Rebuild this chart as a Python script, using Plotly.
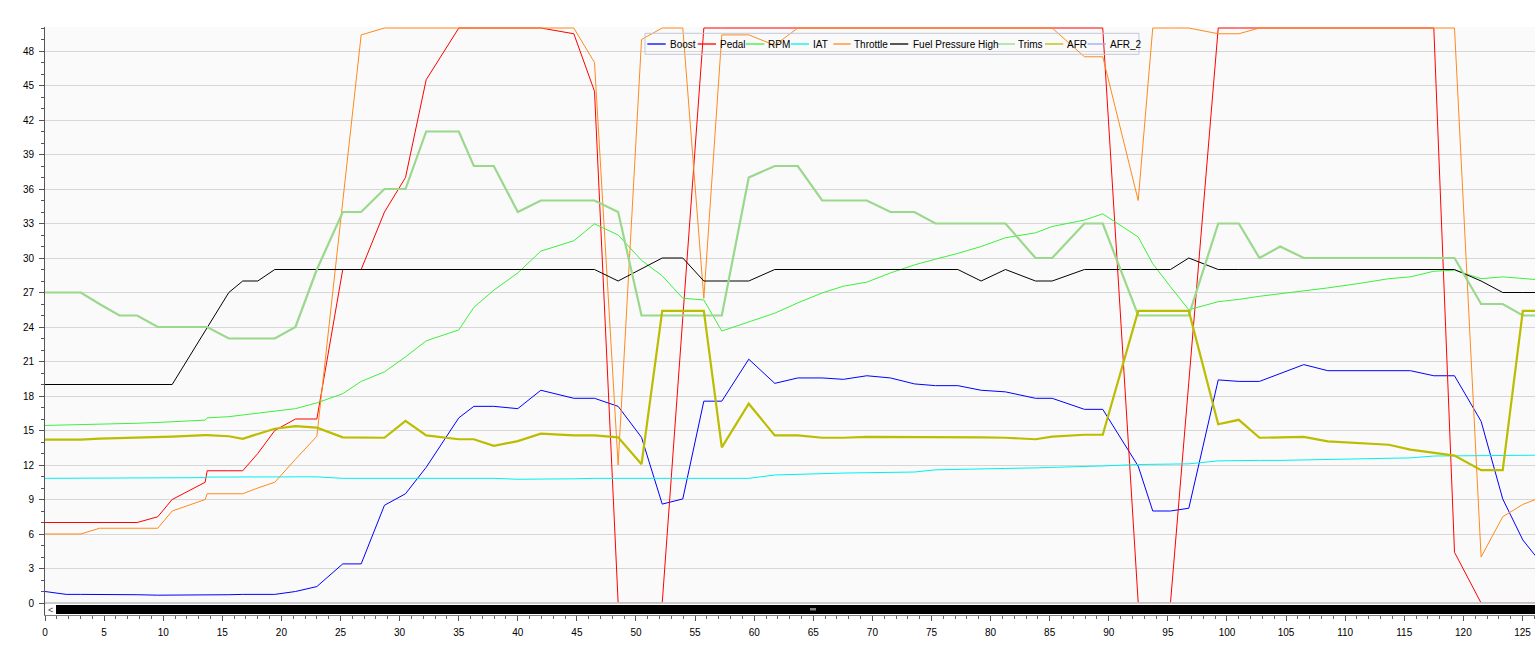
import plotly.graph_objects as go

# ---------------- data ----------------
time_s = [0, 1.79, 3.03, 4.61, 6.30, 7.80, 9.54, 10.76, 13.55, 13.72,
          15.55, 16.73, 18.00, 19.44, 21.19, 23.00, 25.19, 26.75, 28.72, 30.50,
          32.25, 35.01, 36.28, 37.97, 40.00, 41.95, 44.74, 46.49, 48.49, 50.47,
          52.22, 53.96, 55.74, 57.26, 59.54, 61.74, 63.69, 65.75, 67.55, 69.53,
          71.53, 73.56, 75.34, 77.23, 79.20, 81.26, 83.80, 85.21, 87.94, 89.49,
          92.49, 93.72, 95.22, 96.77, 99.26, 101.00, 102.75, 104.50, 106.50, 108.53,
          111.07, 113.69, 115.52, 117.50, 119.25, 121.50, 123.33, 125.03, 126.10]

boost = [1.0, 0.75, 0.75, 0.75, 0.75, 0.72, 0.68, 0.68, 0.68, 0.70,
         0.72, 0.75, 0.75, 0.75, 1.0, 1.43, 3.4, 3.4, 8.5, 9.5,
         11.8, 16.1, 17.1, 17.1, 16.9, 18.5, 17.8, 17.8, 17.1, 14.4,
         8.6, 9.05, 17.55, 17.55, 21.2, 19.1, 19.57, 19.57, 19.45, 19.76,
         19.57, 19.05, 18.9, 18.9, 18.5, 18.36, 17.8, 17.8, 16.84, 16.84,
         11.9, 8.0, 8.0, 8.24, 19.4, 19.27, 19.27, 19.95, 20.73, 20.2,
         20.2, 20.2, 20.2, 19.76, 19.76, 15.8, 9.05, 5.48, 4.1]

pedal = [7, 7, 7, 7, 7, 7, 7.5, 9.0, 10.5, 11.5,
         11.5, 11.5, 13.0, 15.0, 16.0, 16.0, 29.0, 29.0, 34.0, 37.0,
         45.5, 50, 50, 50, 50, 50, 49.5, 44.5, 0, 0,
         0, 24.8, 50, 50, 50, 50, 50, 50, 50, 50,
         50, 50, 50, 50, 50, 50, 50, 50, 50, 50,
         0, 0, 0, 19.2, 50, 50, 50, 50, 50, 50,
         50, 50, 50, 50, 4.41, 0, 0, 0, 0]

rpm = [15.44, 15.48, 15.5, 15.52, 15.57, 15.63, 15.7, 15.75, 15.9, 16.1,
       16.2, 16.35, 16.5, 16.7, 16.9, 17.4, 18.2, 19.27, 20.1, 21.4,
       22.8, 23.75, 25.7, 27.2, 28.7, 30.6, 31.5, 32.97, 32.0, 29.8,
       28.45, 26.5, 26.35, 23.65, 24.46, 25.2, 26.1, 26.96, 27.55, 27.9,
       28.7, 29.4, 29.9, 30.4, 31.0, 31.76, 32.19, 32.74, 33.3, 33.84,
       31.83, 29.5, 27.5, 25.5, 26.2, 26.4, 26.67, 26.9, 27.1, 27.4,
       27.77, 28.2, 28.36, 28.85, 28.94, 28.2, 28.36, 28.25, 28.13]

iat = [10.84, 10.84, 10.84, 10.84, 10.84, 10.84, 10.84, 10.84, 10.9, 10.95,
       10.97, 10.97, 10.97, 10.97, 10.97, 10.97, 10.84, 10.84, 10.84, 10.84,
       10.84, 10.84, 10.84, 10.84, 10.76, 10.76, 10.8, 10.84, 10.84, 10.84,
       10.84, 10.84, 10.84, 10.84, 10.84, 11.13, 11.2, 11.26, 11.3, 11.33,
       11.36, 11.39, 11.58, 11.6, 11.68, 11.7, 11.75, 11.78, 11.85, 11.92,
       12.04, 12.06, 12.08, 12.1, 12.36, 12.4, 12.4, 12.4, 12.43, 12.46,
       12.52, 12.57, 12.62, 12.78, 12.8, 12.85, 12.85, 12.85, 12.85]

throttle = [6, 6, 6, 6.5, 6.5, 6.5, 6.5, 8.0, 9.0, 9.5,
            9.5, 9.5, 10.0, 10.5, 12.5, 14.5, 34.9, 49.4, 50, 50,
            50, 50, 50, 50, 50, 50, 50, 47.0, 12.0, 49.0,
            50, 50, 26.5, 49.4, 49.4, 48.5, 50, 50, 50, 50,
            50, 50, 50, 50, 50, 50, 50, 50, 47.5, 47.5,
            35.0, 50, 50, 50, 49.5, 49.5, 50, 50, 50, 50,
            50, 50, 50, 50, 50, 4.0, 7.5, 8.57, 9.0]

fuel_pressure_high = [19, 19, 19, 19, 19, 19, 19, 19, 23.66, 23.95,
                      27, 28, 28, 29, 29, 29, 29, 29, 29, 29,
                      29, 29, 29, 29, 29, 29, 29, 29, 28, 29.06,
                      30, 30, 28, 28, 28, 29, 29, 29, 29, 29,
                      29, 29, 29, 29, 28, 29, 28, 28, 29, 29,
                      29, 29, 29, 30, 29, 29, 29, 29, 29, 29,
                      29, 29, 29, 29, 29, 28, 27, 27, 27]

trims = [27, 27, 27, 26, 25, 25, 24, 24, 24, 24,
         23, 23, 23, 23, 24, 29, 34, 34, 36, 36,
         41, 41, 38, 38, 34, 35, 35, 35, 34, 25,
         25, 25, 25, 25, 37, 38, 38, 35, 35, 35,
         34, 34, 33, 33, 33, 33, 30, 30, 33, 33,
         25, 25, 25, 25, 33, 33, 30, 31, 30, 30,
         30, 30, 30, 30, 30, 26, 26, 25, 25]

afr = [14.2, 14.2, 14.2, 14.3, 14.33, 14.4, 14.45, 14.47, 14.6, 14.6,
       14.5, 14.28, 14.7, 15.15, 15.38, 15.25, 14.4, 14.37, 14.37, 15.83,
       14.57, 14.24, 14.24, 13.66, 14.08, 14.73, 14.57, 14.57, 14.4, 12.07,
       25.4, 25.4, 25.4, 13.53, 17.33, 14.57, 14.57, 14.37, 14.37, 14.44,
       14.44, 14.44, 14.44, 14.44, 14.4, 14.37, 14.24, 14.47, 14.63, 14.63,
       25.4, 25.4, 25.4, 25.4, 15.54, 15.93, 14.37, 14.4, 14.44, 14.05,
       13.92, 13.76, 13.34, 13.08, 12.82, 11.55, 11.55, 25.4, 25.4]

afr_2 = []  # no visible samples in the reference

series_names = ["Boost", "Pedal", "RPM", "IAT", "Throttle",
                "Fuel Pressure High", "Trims", "AFR", "AFR_2"]
series_values = [boost, pedal, rpm, iat, throttle,
                 fuel_pressure_high, trims, afr, afr_2]

y_ticks = list(range(0, 49, 3))
x_ticks = list(range(0, 126, 5))

# ---------------- styling ----------------
colors = ["#0000ff", "#ff0000", "#3cf03c", "#00f0f0", "#ff8a1c",
          "#000000", "#9ad88c", "#bcbc00", "#99aaee"]
widths = [1, 1, 1, 1, 1, 1, 2.2, 2.2, 1]

W, H = 1535, 647
ML, MR, MT, MB = 45, 0, 27, 32
PW, PH = W - ML - MR, H - MT - MB
PX_PER_UNIT_Y = 11.5
ZERO_PY = 603
y_min = -(MT + PH - ZERO_PY) / PX_PER_UNIT_Y
y_max = (ZERO_PY - MT) / PX_PER_UNIT_Y
x_max = 126.06


def px_x(px):
    return (px - ML) / PW


def px_y(py):
    return (MT + PH - py) / PH


def val_py(py):
    return (ZERO_PY - py) / PX_PER_UNIT_Y


fig = go.Figure()
for name, vals, col, w in zip(series_names, series_values, colors, widths):
    fig.add_trace(go.Scatter(
        x=time_s[:len(vals)], y=vals, name=name, mode="lines",
        line=dict(color=col, width=w), showlegend=False, hoverinfo="skip"))

font = dict(family="Liberation Sans, Arial, sans-serif", size=10, color="#000000")

fig.update_layout(
    width=W, height=H,
    margin=dict(l=ML, r=MR, t=MT, b=MB, pad=0),
    paper_bgcolor="#ffffff",
    plot_bgcolor="#fafafa",
    font=font,
    showlegend=False,
    xaxis=dict(
        range=[0, x_max], showgrid=False, zeroline=False,
        showline=True, linecolor="#808080", linewidth=1,
        ticks="outside", ticklen=5, tickcolor="#555555", tickwidth=1,
        tickmode="array", tickvals=x_ticks, ticktext=[str(v) for v in x_ticks],
        ticklabelstandoff=3, tickfont=font,
        minor=dict(tickmode="array",
                   tickvals=[v for v in range(0, 127) if v % 5],
                   ticks="outside", ticklen=3, tickcolor="#666666", showgrid=False),
    ),
    yaxis=dict(
        range=[y_min, y_max], showgrid=True, gridcolor="#d6d6d6", gridwidth=1,
        zeroline=False, showline=True, linecolor="#555555", linewidth=1,
        ticks="outside", ticklen=5, tickcolor="#555555", tickwidth=1,
        tickmode="array", tickvals=y_ticks, ticktext=[str(v) for v in y_ticks],
        ticklabelstandoff=3, tickfont=font,
        minor=dict(tickmode="array",
                   tickvals=[v for v in range(1, 51) if v % 3],
                   ticks="outside", ticklen=3, tickcolor="#555555", showgrid=False),
    ),
)

shapes = []
# scrollbar strip below the zero line (also hides series resting on zero)
shapes.append(dict(type="rect", xref="paper", yref="y", x0=0.0005, x1=1,
                   y0=y_min, y1=val_py(602.2), fillcolor="#ffffff",
                   line=dict(width=0), layer="above"))
shapes.append(dict(type="line", xref="paper", yref="y", x0=0, x1=1,
                   y0=0, y1=0, line=dict(color="#9a9a9a", width=1.2), layer="above"))
shapes.append(dict(type="rect", xref="paper", yref="y", x0=px_x(56), x1=1,
                   y0=val_py(614), y1=val_py(605), fillcolor="#000000",
                   line=dict(width=0), layer="above"))
for gx in (811, 813, 815):
    shapes.append(dict(type="line", xref="paper", yref="y", x0=px_x(gx), x1=px_x(gx),
                       y0=val_py(610.5), y1=val_py(608), line=dict(color="#ffffff", width=1),
                       layer="above"))

# legend box (custom, drawn to match the reference layout)
shapes.append(dict(type="rect", xref="paper", yref="paper",
                   x0=px_x(645), x1=px_x(1139), y0=px_y(54.3), y1=px_y(33.3),
                   fillcolor="rgba(0,0,0,0)", line=dict(color="#c4c6d8", width=1),
                   layer="above"))
legend_pos = [(647.3, 665.7, 667.7), (697.7, 716, 717.7), (746, 764.3, 766),
              (790.7, 809, 810.7), (833.3, 850.7, 851.7), (890, 908.3, 910.7),
              (996.7, 1015, 1016), (1045, 1063.3, 1065), (1087.7, 1106, 1107.7)]
annotations = []
for (l0, l1, tx), name, col in zip(legend_pos, series_names, colors):
    shapes.append(dict(type="line", xref="paper", yref="paper",
                       x0=px_x(l0), x1=px_x(l1), y0=px_y(44), y1=px_y(44),
                       line=dict(color=col, width=1.3), layer="above"))
    annotations.append(dict(xref="paper", yref="paper", x=px_x(tx), y=px_y(44.2),
                            text=name, showarrow=False, xanchor="left", yanchor="middle",
                            font=font))
annotations.append(dict(xref="paper", yref="y", x=px_x(50.5), y=val_py(609.5),
                        text="&lt;", showarrow=False, xanchor="center", yanchor="middle",
                        font=dict(family="Liberation Sans, Arial", size=9, color="#404040")))

fig.update_layout(shapes=shapes, annotations=annotations)

fig.write_html("out.html")
